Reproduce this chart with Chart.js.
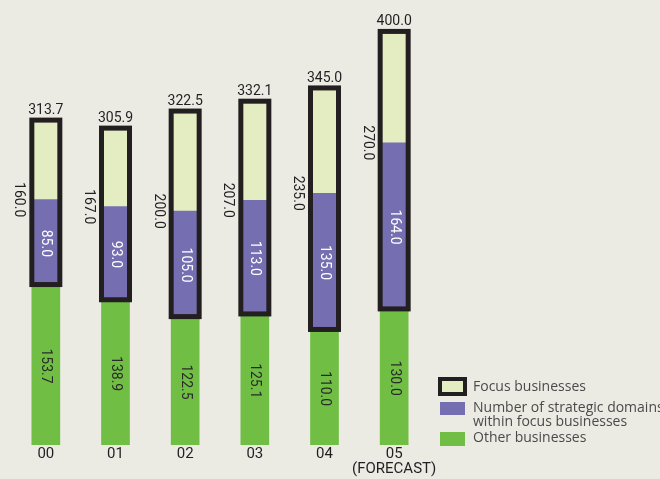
<!DOCTYPE html>
<html>
<head>
<meta charset="utf-8">
<script src="https://cdn.jsdelivr.net/npm/chart.js@4/dist/chart.umd.min.js"></script>
<style>
  body { margin: 0; background: #ebebe4; }
  canvas { display: block; }
</style>
</head>
<body>
<canvas id="myChart" width="660" height="479"></canvas>
<script>
// data
const years = ["00", "01", "02", "03", "04", ["05", "(FORECAST)"]];
const otherBusinesses = [153.7, 138.9, 122.5, 125.1, 110.0, 130.0];
const strategicDomains = [85.0, 93.0, 105.0, 113.0, 135.0, 164.0];
const focusBusinesses = [160.0, 167.0, 200.0, 207.0, 235.0, 270.0];
const totals = [313.7, 305.9, 322.5, 332.1, 345.0, 400.0];

// light part of the bar = focus businesses minus strategic domains
const focusRest = focusBusinesses.map((v, i) => +(v - strategicDomains[i]).toFixed(1));

const GREEN = '#70be44';
const PURPLE = '#756fb2';
const LIGHT = '#e4edc2';
const DARK = '#231f20';
const BG = '#ebebe4';

const background = {
    id: 'background',
    beforeDraw(chart) {
        const c = chart.ctx;
        c.save();
        c.fillStyle = BG;
        c.fillRect(0, 0, chart.width, chart.height);
        c.restore();
    }
};

// black frame round the focus part + value labels
const barLabels = {
    id: 'barLabels',
    afterDatasetsDraw(chart) {
        const c = chart.ctx;
        const green = chart.getDatasetMeta(0).data;
        const purple = chart.getDatasetMeta(1).data;
        const light = chart.getDatasetMeta(2).data;
        c.save();
        purple.forEach((bar, i) => {
            const top = light[i].y;
            const base = bar.base;
            const left = bar.x - bar.width / 2;
            c.strokeStyle = DARK;
            c.lineWidth = 5;
            c.strokeRect(left, top - 2.5, bar.width, base - top);

            c.font = '14px Roboto';
            c.textAlign = 'center';
            c.textBaseline = 'bottom';
            c.fillStyle = DARK;
            c.fillText(totals[i].toFixed(1), bar.x, top - 5);

            const rotated = (text, x, y, color) => {
                c.save();
                c.translate(x, y);
                c.rotate(Math.PI / 2);
                c.textBaseline = 'middle';
                c.fillStyle = color;
                c.fillText(text, 0, 0);
                c.restore();
            };
            rotated(focusBusinesses[i].toFixed(1), bar.x - 27, bar.y, DARK);
            rotated(strategicDomains[i].toFixed(1), bar.x, (bar.y + bar.base) / 2, '#ffffff');
            const g = green[i];
            rotated(otherBusinesses[i].toFixed(1), g.x, (g.y + g.base) / 2, '#2a2a2a');
        });
        c.restore();
    }
};

const legendBox = {
    id: 'legendBox',
    afterDraw(chart) {
        const c = chart.ctx;
        c.save();
        c.fillStyle = LIGHT;
        c.fillRect(440, 379, 25, 15);
        c.strokeStyle = DARK;
        c.lineWidth = 4;
        c.strokeRect(440, 379, 25, 15);
        c.fillStyle = PURPLE;
        c.fillRect(440, 402, 25, 13);
        c.fillStyle = GREEN;
        c.fillRect(440, 432, 25, 14);

        c.font = '14px "Open Sans"';
        c.fillStyle = '#4a4a4a';
        c.textAlign = 'left';
        c.textBaseline = 'middle';
        c.fillText('Focus businesses', 473, 387);
        c.fillText('Number of strategic domains', 473, 408);
        c.fillText('within focus businesses', 473, 422);
        c.fillText('Other businesses', 473, 438);
        c.restore();
    }
};

const ctx = document.getElementById('myChart');
const myChart = new Chart(ctx, {
    type: 'bar',
    data: {
        labels: years,
        datasets: [
            { label: 'Other businesses', data: otherBusinesses, backgroundColor: GREEN },
            { label: 'Number of strategic domains within focus businesses', data: strategicDomains, backgroundColor: PURPLE },
            { label: 'Focus businesses', data: focusRest, backgroundColor: LIGHT }
        ]
    },
    plugins: [background, barLabels, legendBox],
    options: {
        responsive: false,
        animation: false,
        layout: { padding: { left: 11, right: 231, top: 0, bottom: 0 } },
        datasets: { bar: { barThickness: 28, borderWidth: 0 } },
        plugins: { legend: { display: false }, tooltip: { enabled: false } },
        scales: {
            x: {
                stacked: true,
                grid: { display: false, drawTicks: false },
                border: { display: false },
                ticks: {
                    color: DARK,
                    font: { family: 'Roboto', size: 15, lineHeight: 1.0 },
                    padding: 2,
                    autoSkip: false,
                    maxRotation: 0,
                    minRotation: 0
                },
                afterFit(scale) { scale.height = 34; }
            },
            y: {
                stacked: true,
                display: false,
                min: 0,
                max: 433
            }
        }
    }
});
</script>
</body>
</html>
